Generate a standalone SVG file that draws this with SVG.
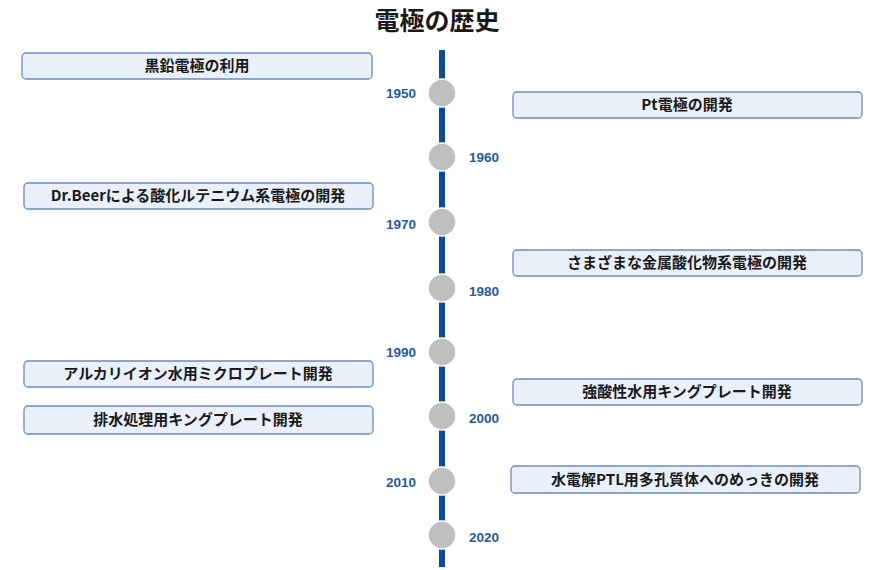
<svg xmlns="http://www.w3.org/2000/svg" width="890" height="570" viewBox="0 0 890 570">
<style>
.b{fill:#eaf0f9;stroke:#6a8cc0;stroke-width:1.3}
.t{font-family:"Noto Sans CJK JP","Liberation Sans",sans-serif;font-weight:bold;font-size:15px;fill:#1a1a1a;text-anchor:middle}
.y{font-family:"Liberation Sans",sans-serif;font-weight:bold;font-size:13.5px;fill:#1f5aa0;text-anchor:middle}
.c{fill:#bfbfbf;stroke:#fff;stroke-width:1.5}
</style>
<rect width="890" height="570" fill="#fff"/>
<text x="437" y="30" class="t" style="font-size:25px">電極の歴史</text>
<g id="connectors"><line x1="442" y1="50" x2="442" y2="567" stroke="#0b4a9a" stroke-width="6"/></g>
<g id="ticks">
<circle class="c" cx="442" cy="93" r="14"/><text class="y" x="401" y="98">1950</text>
<circle class="c" cx="442" cy="157" r="14"/><text class="y" x="484" y="162">1960</text>
<circle class="c" cx="442" cy="222" r="14"/><text class="y" x="401" y="229">1970</text>
<circle class="c" cx="442" cy="288" r="14"/><text class="y" x="484" y="296">1980</text>
<circle class="c" cx="442" cy="352" r="14"/><text class="y" x="401" y="357">1990</text>
<circle class="c" cx="442" cy="416" r="14"/><text class="y" x="484" y="423">2000</text>
<circle class="c" cx="442" cy="481" r="14"/><text class="y" x="401" y="487">2010</text>
<circle class="c" cx="442" cy="535" r="14"/><text class="y" x="484" y="542">2020</text>
</g>
<g id="n1"><rect class="b" x="22" y="53" width="350" height="26" rx="4"/><text class="t" x="197" y="71">黒鉛電極の利用</text></g>
<g id="n2"><rect class="b" x="513" y="92" width="349" height="26" rx="4"/><text class="t" x="687" y="110">Pt電極の開発</text></g>
<g id="n3"><rect class="b" x="24" y="183" width="349" height="26" rx="4"/><text class="t" x="198" y="201">Dr.Beerによる酸化ルテニウム系電極の開発</text></g>
<g id="n4"><rect class="b" x="513" y="250" width="349" height="26" rx="4"/><text class="t" x="687" y="268">さまざまな金属酸化物系電極の開発</text></g>
<g id="n5"><rect class="b" x="24" y="361" width="349" height="26" rx="4"/><text class="t" x="198" y="379">アルカリイオン水用ミクロプレート開発</text></g>
<g id="n6"><rect class="b" x="513" y="379" width="349" height="26" rx="4"/><text class="t" x="687" y="397">強酸性水用キングプレート開発</text></g>
<g id="n7"><rect class="b" x="24" y="406" width="349" height="28" rx="4"/><text class="t" x="198" y="425">排水処理用キングプレート開発</text></g>
<g id="n8"><rect class="b" x="511" y="466" width="349" height="27" rx="4"/><text class="t" x="685" y="485">水電解PTL用多孔質体へのめっきの開発</text></g>
</svg>
